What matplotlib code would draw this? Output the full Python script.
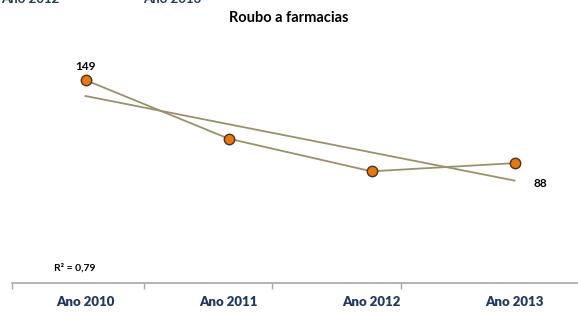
import numpy as np
import matplotlib.pyplot as plt

years = ['Ano 2010', 'Ano 2011', 'Ano 2012', 'Ano 2013']
robos = [149, 106, 82, 88]
r2_label = 'R² = 0,79'

blue = '#1f3864'
olive = '#9a916a'

fig = plt.figure(figsize=(5.78, 3.13), dpi=100)
# axis runs slightly past the right edge, like the original screenshot
ax = fig.add_axes([12/578, 30/313, 574/578, 272.4/313])

x = np.arange(len(years))
ax.plot(x, robos, color=olive, lw=1.3, zorder=2)
ax.plot(x, robos, 'o', ms=7.5, mfc='#e8770f', mec='#4a3220', mew=1.0, zorder=4)

# linear trend
m, b = np.polyfit(x, robos, 1)
ax.plot(x, m*x + b, color=olive, lw=1.3, zorder=3)

ax.set_xlim(-0.5, 3.5)
ax.set_ylim(0, 200)
ax.set_yticks([])
for s in ['top', 'right', 'left']:
    ax.spines[s].set_visible(False)
ax.spines['bottom'].set_color('#a6a6a6')
ax.spines['bottom'].set_linewidth(1.2)
ax.spines['bottom'].set_bounds(-0.514, 3.5)

# tick marks sit where the screenshot has them (not quite at boundaries)
ax.set_xticks([-0.514, 0.406, 1.305, 2.204])
ax.set_xticklabels([])
ax.tick_params(axis='x', length=4, color='#a6a6a6', width=1)
for i, lab in enumerate(years):
    ax.text(i, -14, lab, ha='center', va='center', fontsize=9.5, fontweight='heavy',
            color=blue, family='Lato')

ax.text(0, robos[0] + 10, str(robos[0]), ha='center', va='center', fontsize=8.5,
        fontweight='bold', family='Lato')
ax.text(3.18, 73, str(robos[3]), ha='center', va='center', fontsize=8.5,
        fontweight='bold', family='Lato')
ax.text(-0.22, 11, r2_label, ha='left', va='center', fontsize=7.5,
        fontweight='bold', family='Lato')

fig.text(289/578, 1 - 18/313, 'Roubo a farmacias', ha='center', va='center',
         fontsize=10.5, fontweight='bold', family='Lato')

# clipped labels from the chart above
fig.text(30/578, 1 + 1/313, 'Ano 2012', ha='center', va='center', fontsize=9.5,
         fontweight='bold', color=blue, family='Lato')
fig.text(172/578, 1 + 1/313, 'Ano 2013', ha='center', va='center', fontsize=9.5,
         fontweight='bold', color=blue, family='Lato')

fig.savefig('out.png', dpi=100)
